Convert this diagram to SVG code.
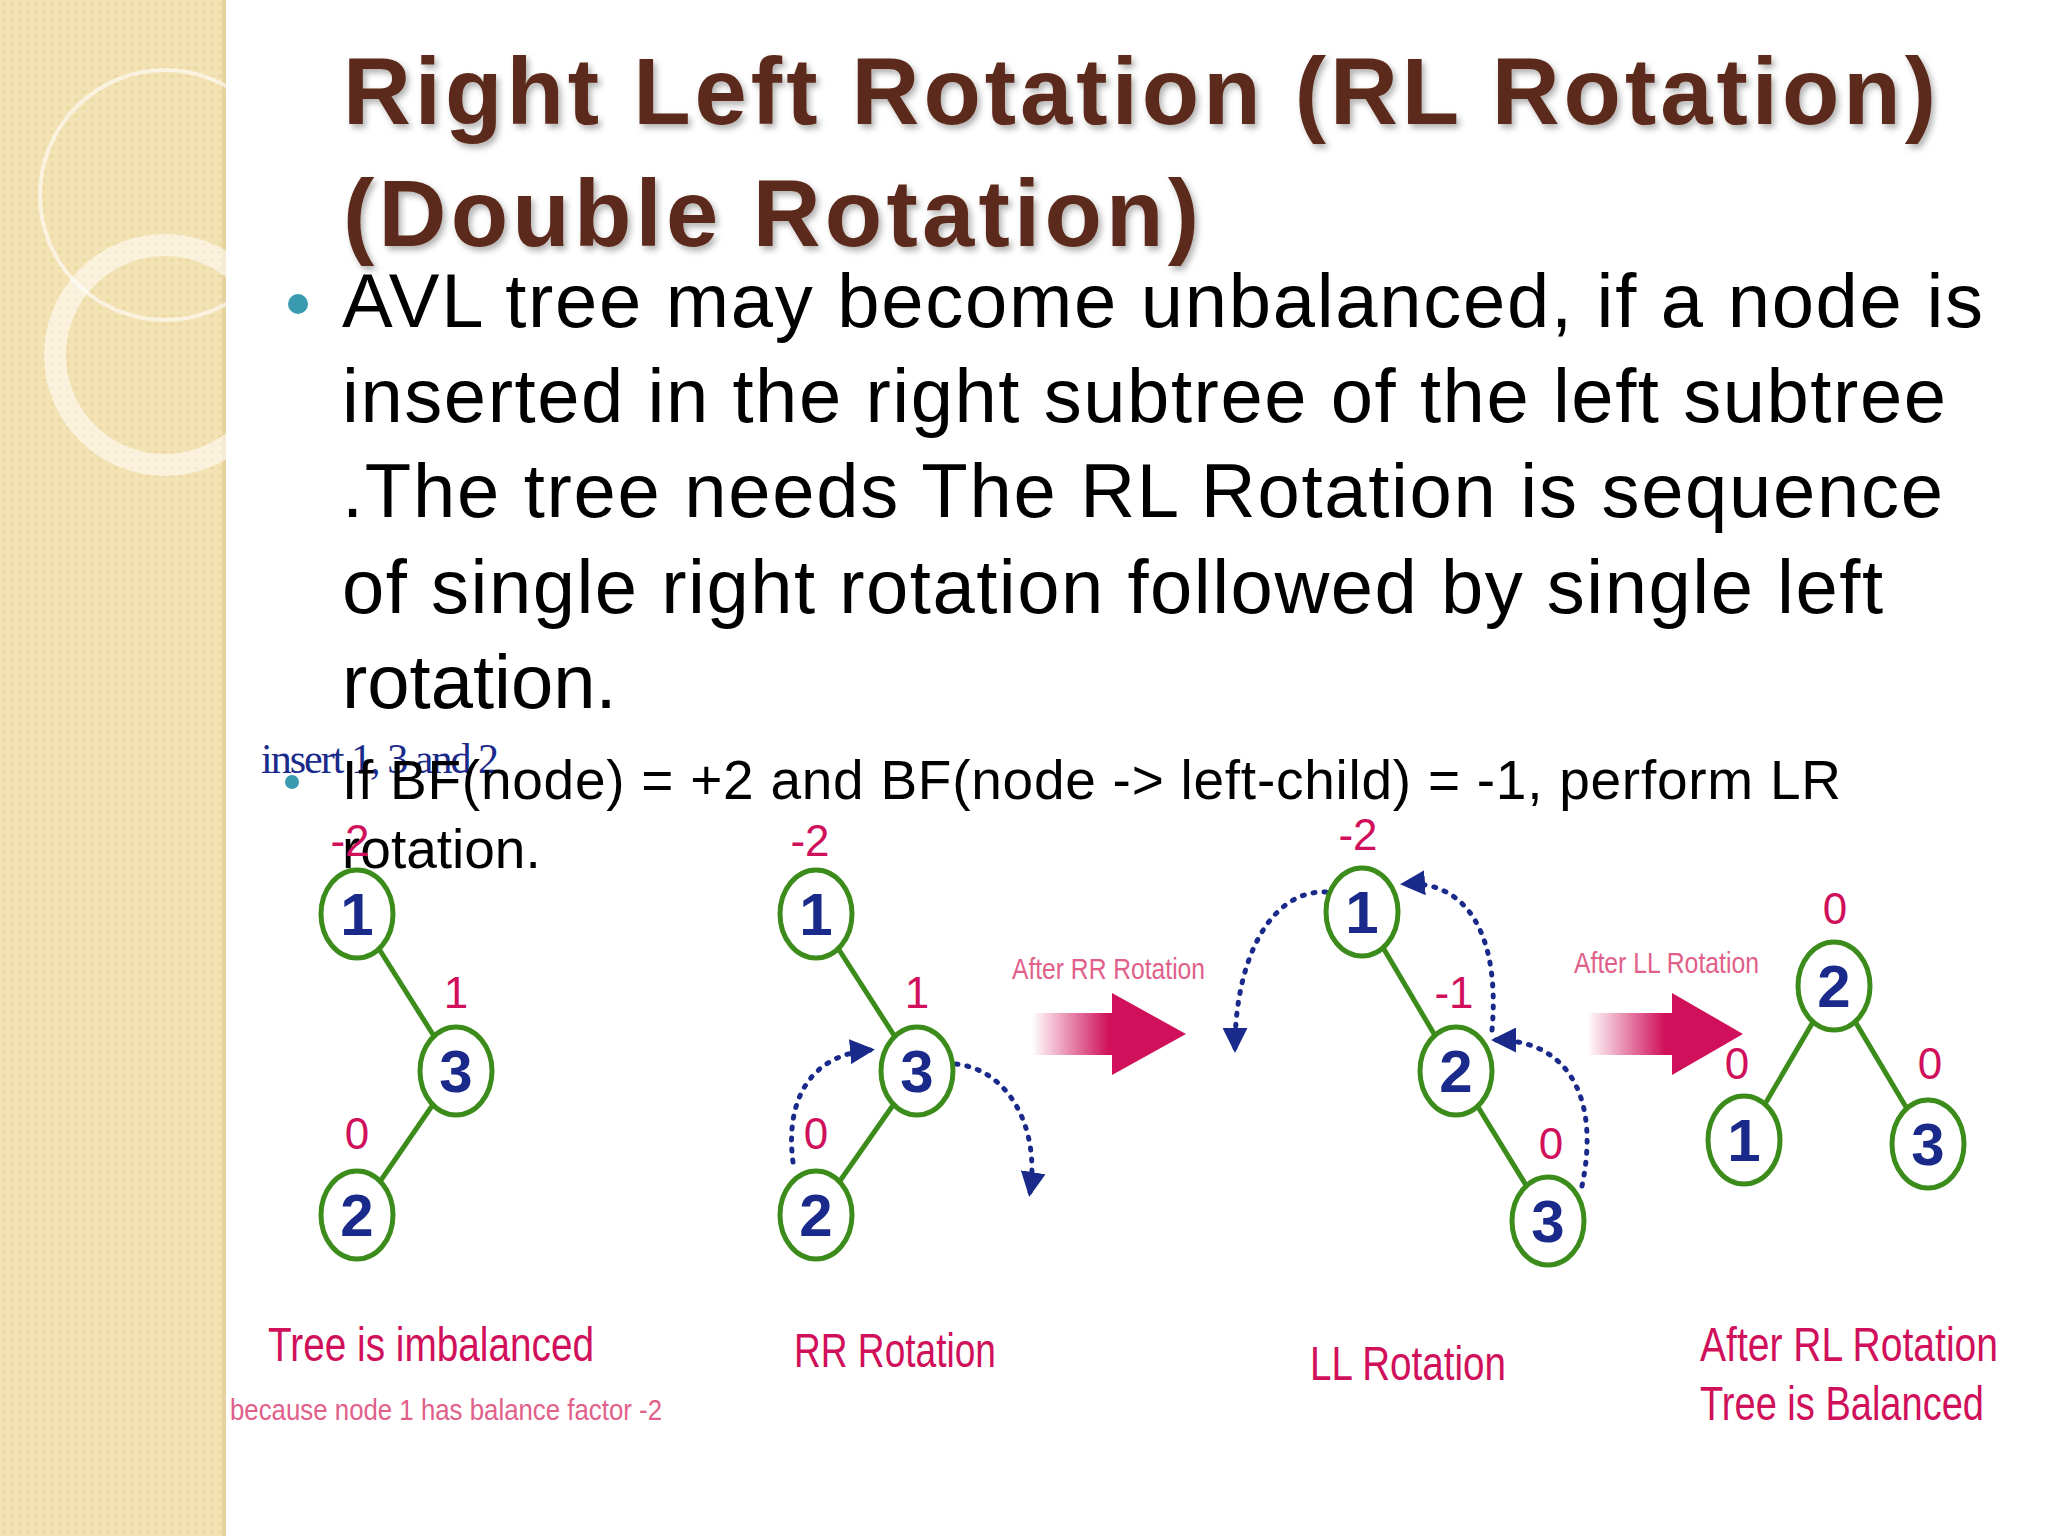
<svg xmlns="http://www.w3.org/2000/svg" width="2048" height="1536" viewBox="0 0 2048 1536">
<defs>
<style>
.node ellipse{fill:#fff;stroke:#3c8c1c;stroke-width:5}
.node text{font-family:"Liberation Sans Narrow","Liberation Sans",sans-serif;font-weight:bold;font-size:60px;fill:#1a2a8a;text-anchor:middle}
.bf{font-family:"Liberation Sans Narrow","Liberation Sans",sans-serif;font-size:44px;fill:#d0105a;text-anchor:middle}
.cap{font-family:"Liberation Sans",sans-serif;font-size:48px;fill:#d0105a}
.small{font-family:"Liberation Sans",sans-serif;font-size:30px;fill:#e0608a}
.edge{stroke:#3c8c1c;stroke-width:5}
.dot{fill:none;stroke:#1a2a8a;stroke-width:5;stroke-dasharray:2 9;stroke-linecap:round}
.title{font-family:"Liberation Sans",sans-serif;font-weight:bold;font-size:94px;fill:#5c2a1a}
.body{font-family:"Liberation Sans",sans-serif;font-size:76px;fill:#000}
</style>
<marker id="ah" viewBox="0 0 10 10" refX="8" refY="5" markerWidth="5" markerHeight="5" orient="auto"><path d="M0,0 L10,5 L0,10 z" fill="#1a2a8a"/></marker>
<linearGradient id="ag" x1="0" x2="1" y1="0" y2="0"><stop offset="0" stop-color="#d0105a" stop-opacity="0"/><stop offset="0.5" stop-color="#d0105a"/></linearGradient>
<pattern id="pt" width="8" height="8" patternUnits="userSpaceOnUse"><rect width="8" height="8" fill="#f3e2b3"/><circle cx="4" cy="4" r="1.6" fill="#e9d39c"/></pattern>
<filter id="sh"><feDropShadow dx="3" dy="4" stdDeviation="3" flood-color="#000" flood-opacity="0.3"/></filter>
</defs>
<rect width="2048" height="1536" fill="#fff"/>
<g id="sidebar">
<rect width="226" height="1536" fill="url(#pt)"/>
<rect x="222" width="4" height="1536" fill="#e6d29e"/>
<circle cx="165" cy="195" r="125" fill="none" stroke="#fff" stroke-opacity="0.6" stroke-width="4"/>
<circle cx="165" cy="355" r="110" fill="none" stroke="#fff" stroke-opacity="0.55" stroke-width="22"/>
</g>
<g id="title" filter="url(#sh)">
<text class="title" x="343" y="124" textLength="1593">Right Left Rotation (RL Rotation)</text>
<text class="title" x="343" y="246" textLength="856">(Double Rotation)</text>
</g>
<g id="body">
<circle cx="298" cy="304" r="10" fill="#3a9ab0"/>
<text class="body" x="342" y="327" textLength="1641">AVL tree may become unbalanced, if a node is</text>
<text class="body" x="342" y="422" textLength="1604">inserted in the right subtree of the left subtree</text>
<text class="body" x="342" y="517" textLength="1601">.The tree needs The RL Rotation is sequence</text>
<text class="body" x="342" y="613" textLength="1541">of single right rotation followed by single left</text>
<text class="body" x="342" y="708">rotation.</text>
<text x="261" y="773" font-family="Liberation Serif,serif" font-size="42" fill="#1a2a8a" textLength="238">insert 1, 3 and 2</text>
<circle cx="292" cy="782" r="7" fill="#3a9ab0"/>
<text x="342" y="799" font-family="Liberation Sans,sans-serif" font-size="55" textLength="1499">If BF(node) = +2 and BF(node -&gt; left-child) = -1, perform LR</text>
<text x="342" y="868" font-family="Liberation Sans,sans-serif" font-size="55">rotation.</text>
</g>
<g id="connectors">
<line class="edge" x1="357" y1="914" x2="456" y2="1071"/>
<line class="edge" x1="456" y1="1071" x2="357" y2="1215"/>
<line class="edge" x1="816" y1="914" x2="917" y2="1071"/>
<line class="edge" x1="917" y1="1071" x2="816" y2="1215"/>
<line class="edge" x1="1362" y1="912" x2="1456" y2="1071"/>
<line class="edge" x1="1456" y1="1071" x2="1548" y2="1221"/>
<line class="edge" x1="1834" y1="986" x2="1744" y2="1140"/>
<line class="edge" x1="1834" y1="986" x2="1928" y2="1144"/>
<path class="dot" d="M793,1162 C785,1100 810,1055 870,1050" marker-end="url(#ah)"/>
<path class="dot" d="M956,1064 C1010,1070 1040,1130 1030,1192" marker-end="url(#ah)"/>
<path class="dot" d="M1326,892 C1270,890 1235,960 1235,1048" marker-end="url(#ah)"/>
<path class="dot" d="M1492,1030 C1500,940 1470,880 1405,884" marker-end="url(#ah)"/>
<path class="dot" d="M1582,1186 C1600,1100 1570,1040 1496,1040" marker-end="url(#ah)"/>
<path d="M1032,1013 H1112 V993 L1186,1034 L1112,1075 V1055 H1032 Z" fill="url(#ag)"/>
<path d="M1587,1013 H1672 V993 L1743,1034 L1672,1075 V1055 H1587 Z" fill="url(#ag)"/>
</g>
<g id="labels">
<text class="bf" x="350" y="856">-2</text>
<text class="bf" x="456" y="1008">1</text>
<text class="bf" x="357" y="1149">0</text>
<text class="bf" x="810" y="856">-2</text>
<text class="bf" x="917" y="1008">1</text>
<text class="bf" x="816" y="1149">0</text>
<text class="bf" x="1358" y="850">-2</text>
<text class="bf" x="1454" y="1008">-1</text>
<text class="bf" x="1551" y="1159">0</text>
<text class="bf" x="1835" y="924">0</text>
<text class="bf" x="1737" y="1079">0</text>
<text class="bf" x="1930" y="1079">0</text>
<text class="small" x="1012" y="979" textLength="193" lengthAdjust="spacingAndGlyphs">After RR Rotation</text>
<text class="small" x="1574" y="973" textLength="185" lengthAdjust="spacingAndGlyphs">After LL Rotation</text>
<text class="cap" x="268" y="1361" textLength="326" lengthAdjust="spacingAndGlyphs">Tree is imbalanced</text>
<text class="small" x="230" y="1420" textLength="432" lengthAdjust="spacingAndGlyphs">because node 1 has balance factor -2</text>
<text class="cap" x="794" y="1367" textLength="202" lengthAdjust="spacingAndGlyphs">RR Rotation</text>
<text class="cap" x="1310" y="1380" textLength="196" lengthAdjust="spacingAndGlyphs">LL Rotation</text>
<text class="cap" x="1700" y="1361" textLength="298" lengthAdjust="spacingAndGlyphs">After RL Rotation</text>
<text class="cap" x="1700" y="1420" textLength="284" lengthAdjust="spacingAndGlyphs">Tree is Balanced</text>
</g>
<g id="t1n1" class="node"><ellipse cx="357" cy="914" rx="36" ry="44"/><text x="357" y="935">1</text></g>
<g id="t1n3" class="node"><ellipse cx="456" cy="1071" rx="36" ry="44"/><text x="456" y="1092">3</text></g>
<g id="t1n2" class="node"><ellipse cx="357" cy="1215" rx="36" ry="44"/><text x="357" y="1236">2</text></g>
<g id="t2n1" class="node"><ellipse cx="816" cy="914" rx="36" ry="44"/><text x="816" y="935">1</text></g>
<g id="t2n3" class="node"><ellipse cx="917" cy="1071" rx="36" ry="44"/><text x="917" y="1092">3</text></g>
<g id="t2n2" class="node"><ellipse cx="816" cy="1215" rx="36" ry="44"/><text x="816" y="1236">2</text></g>
<g id="t3n1" class="node"><ellipse cx="1362" cy="912" rx="36" ry="44"/><text x="1362" y="933">1</text></g>
<g id="t3n2" class="node"><ellipse cx="1456" cy="1071" rx="36" ry="44"/><text x="1456" y="1092">2</text></g>
<g id="t3n3" class="node"><ellipse cx="1548" cy="1221" rx="36" ry="44"/><text x="1548" y="1242">3</text></g>
<g id="t4n2" class="node"><ellipse cx="1834" cy="986" rx="36" ry="44"/><text x="1834" y="1007">2</text></g>
<g id="t4n1" class="node"><ellipse cx="1744" cy="1140" rx="36" ry="44"/><text x="1744" y="1161">1</text></g>
<g id="t4n3" class="node"><ellipse cx="1928" cy="1144" rx="36" ry="44"/><text x="1928" y="1165">3</text></g>
</svg>
